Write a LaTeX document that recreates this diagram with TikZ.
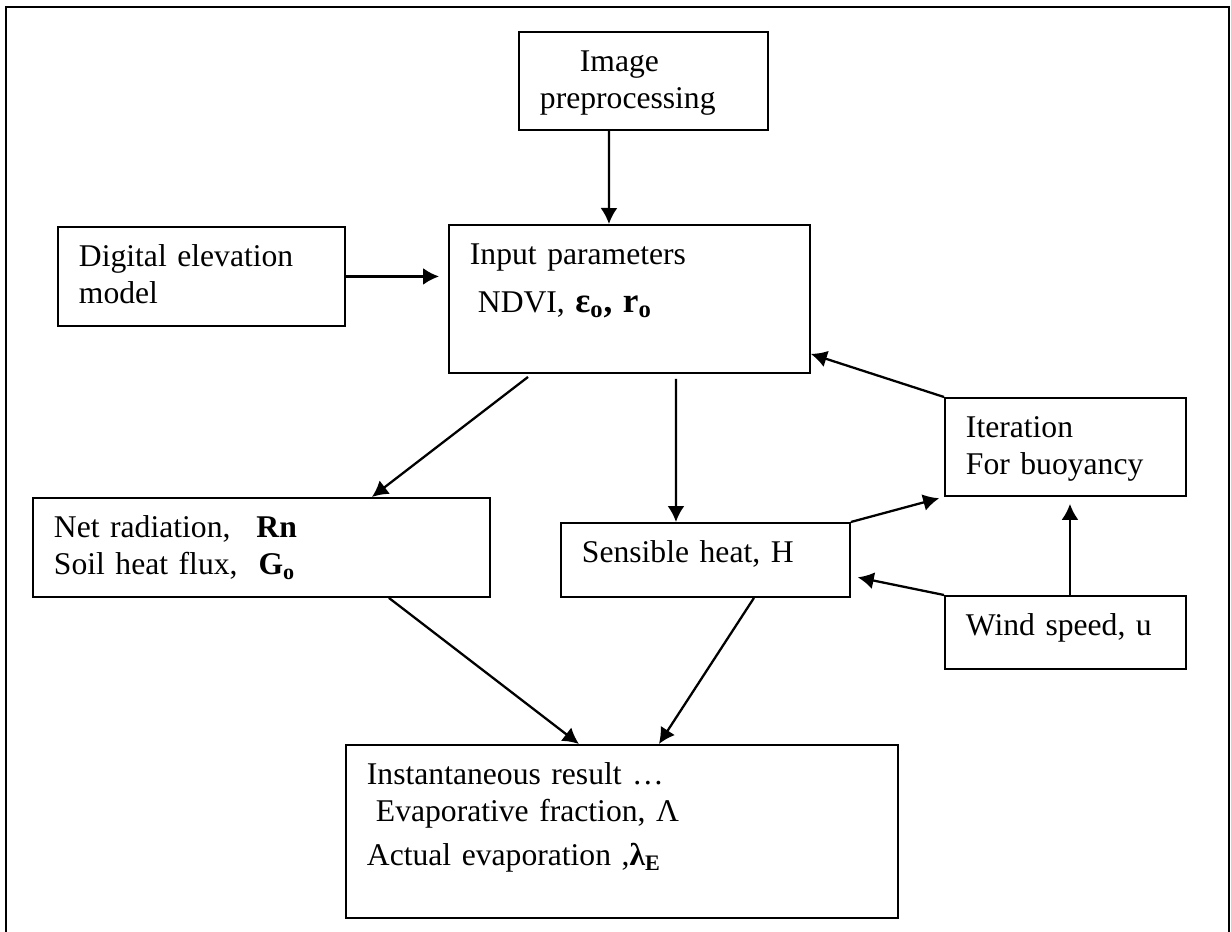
\documentclass[tikz,border=0pt]{standalone}
\usepackage{fontspec}
\setmainfont{Liberation Serif}
\usetikzlibrary{arrows.meta}
\tikzset{
  box/.style={draw, line width=1.1pt, anchor=north west, align=left, inner xsep=0.42cm, inner ysep=0pt, text height=0.8cm},
  arrow/.style={-{Latex[length=0.32cm, width=0.34cm]}, line width=1.3pt}
}

\begin{document}
\begin{tikzpicture}[x=0.02cm, y=-0.02cm, font=\fontsize{18}{21}\selectfont]
\useasboundingbox (0,0) rectangle (1231,932);
% outer frame, open at the bottom
\draw[line width=1.1pt] (6,932) -- (6,7) -- (1229,7) -- (1229,932);

\node[box, text width=4.14cm, text depth=1.16cm] (img) at (518,31) {\hspace*{0.8cm}Image\\preprocessing};
\node[box, text width=4.90cm, text depth=1.18cm] (dem) at (57,226) {Digital elevation\\model};
\node[box, text width=6.38cm, text depth=2.16cm] (inp) at (448,224) {Input parameters\\[6pt]\hspace*{0.16cm}NDVI, {\bfseries\fontsize{20}{21}\selectfont ε\textsubscript{o}, r\textsubscript{o}}};
\node[box, text width=8.30cm, text depth=1.18cm] (net) at (32,497) {Net radiation,\hspace{0.52cm}\textbf{Rn}\\Soil heat flux,\hspace{0.42cm}\textbf{G\textsubscript{o}}};
\node[box, text width=4.94cm, text depth=0.68cm] (sens) at (560,522) {Sensible heat, H};
\node[box, text width=3.98cm, text depth=1.16cm] (iter) at (944,397) {Iteration\\For buoyancy};
\node[box, text width=3.98cm, text depth=0.66cm] (wind) at (944,595) {Wind speed, u};
\node[box, text width=10.20cm, text depth=2.66cm] (inst) at (345,744) {Instantaneous result …\\\hspace*{0.18cm}Evaporative fraction, Λ\\[4pt]Actual evaporation ,{\bfseries λ\textsubscript{E}}};

\draw[arrow] ([xshift=1.82cm]img.south west) -- ([xshift=3.22cm]inp.north west);
\draw[arrow, shorten >=0.18cm] (dem.east) -- (dem.east -| inp.west);
\draw[arrow, shorten <=0.1cm] ([xshift=1.68cm]inp.south west) -- ([xshift=6.8cm]net.north west);
\draw[arrow, shorten <=0.1cm] ([xshift=4.56cm]inp.south west) -- ([xshift=2.32cm]sens.north west);
\draw[arrow] (iter.north west) -- ([yshift=0.4cm]inp.south east);
\draw[arrow, shorten >=0.1cm] (sens.north east) -- (iter.south west);
\draw[arrow, shorten >=0.14cm] (wind.north west) -- ([yshift=0.44cm]sens.south east);
\draw[arrow, shorten >=0.14cm] ([xshift=2.52cm]wind.north west) -- ([xshift=2.52cm]iter.south west);
\draw[arrow] ([xshift=7.14cm]net.south west) -- ([xshift=4.68cm]inst.north west);
\draw[arrow] ([xshift=3.88cm]sens.south west) -- ([xshift=6.28cm]inst.north west);
\end{tikzpicture}
\end{document}
